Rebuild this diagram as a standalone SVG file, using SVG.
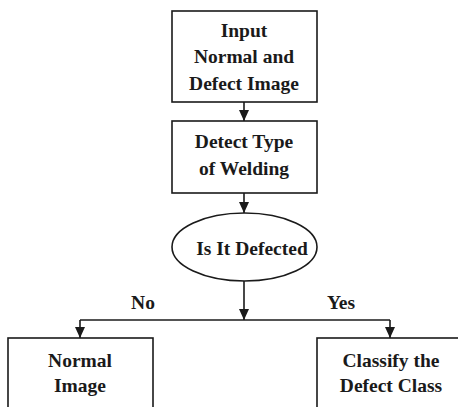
<svg xmlns="http://www.w3.org/2000/svg" width="458" height="407" viewBox="0 0 458 407">
<style>
.box{fill:#fff;stroke:#1a1a1a;stroke-width:1.6}
.t{font-family:"Liberation Serif","Times New Roman",serif;font-weight:bold;font-size:19.5px;fill:#1a1a1a;text-anchor:middle}
.c{fill:none;stroke:#1a1a1a;stroke-width:1.6}
</style>
<defs>
<marker id="ah" markerUnits="userSpaceOnUse" markerWidth="12" markerHeight="10" refX="11" refY="5" orient="auto">
<path d="M0,0 L11,5 L0,10 Z" fill="#1a1a1a"/>
</marker>
</defs>
<rect width="458" height="407" fill="#fff"/>
<g id="connectors">
<line class="c" x1="244" y1="102" x2="244" y2="121" marker-end="url(#ah)"/>
<line class="c" x1="244" y1="193" x2="244" y2="213" marker-end="url(#ah)"/>
<line class="c" x1="244" y1="281" x2="244" y2="320" marker-end="url(#ah)"/>
<line class="c" x1="80" y1="320" x2="390" y2="320"/>
<line class="c" x1="80" y1="320" x2="80" y2="338" marker-end="url(#ah)"/>
<line class="c" x1="390" y1="320" x2="390" y2="338" marker-end="url(#ah)"/>
<text class="t" x="143" y="309">No</text>
<text class="t" x="341" y="309">Yes</text>
</g>
<g id="input">
<rect class="box" x="172" y="11" width="145" height="91"/>
<text class="t" x="244" y="37">Input</text>
<text class="t" x="244" y="63">Normal and</text>
<text class="t" x="244" y="90">Defect Image</text>
</g>
<g id="detect">
<rect class="box" x="172" y="121" width="145" height="72"/>
<text class="t" x="244" y="148">Detect Type</text>
<text class="t" x="244" y="175">of Welding</text>
</g>
<g id="decision">
<ellipse class="box" cx="244.5" cy="247" rx="72.5" ry="34"/>
<text class="t" x="252" y="255">Is It Defected</text>
</g>
<g id="normal">
<rect class="box" x="8" y="338" width="145" height="80"/>
<text class="t" x="80" y="367">Normal</text>
<text class="t" x="80" y="392">Image</text>
</g>
<g id="classify">
<rect class="box" x="317" y="338" width="160" height="80"/>
<text class="t" x="391" y="367">Classify the</text>
<text class="t" x="391" y="392">Defect Class</text>
</g>
</svg>
